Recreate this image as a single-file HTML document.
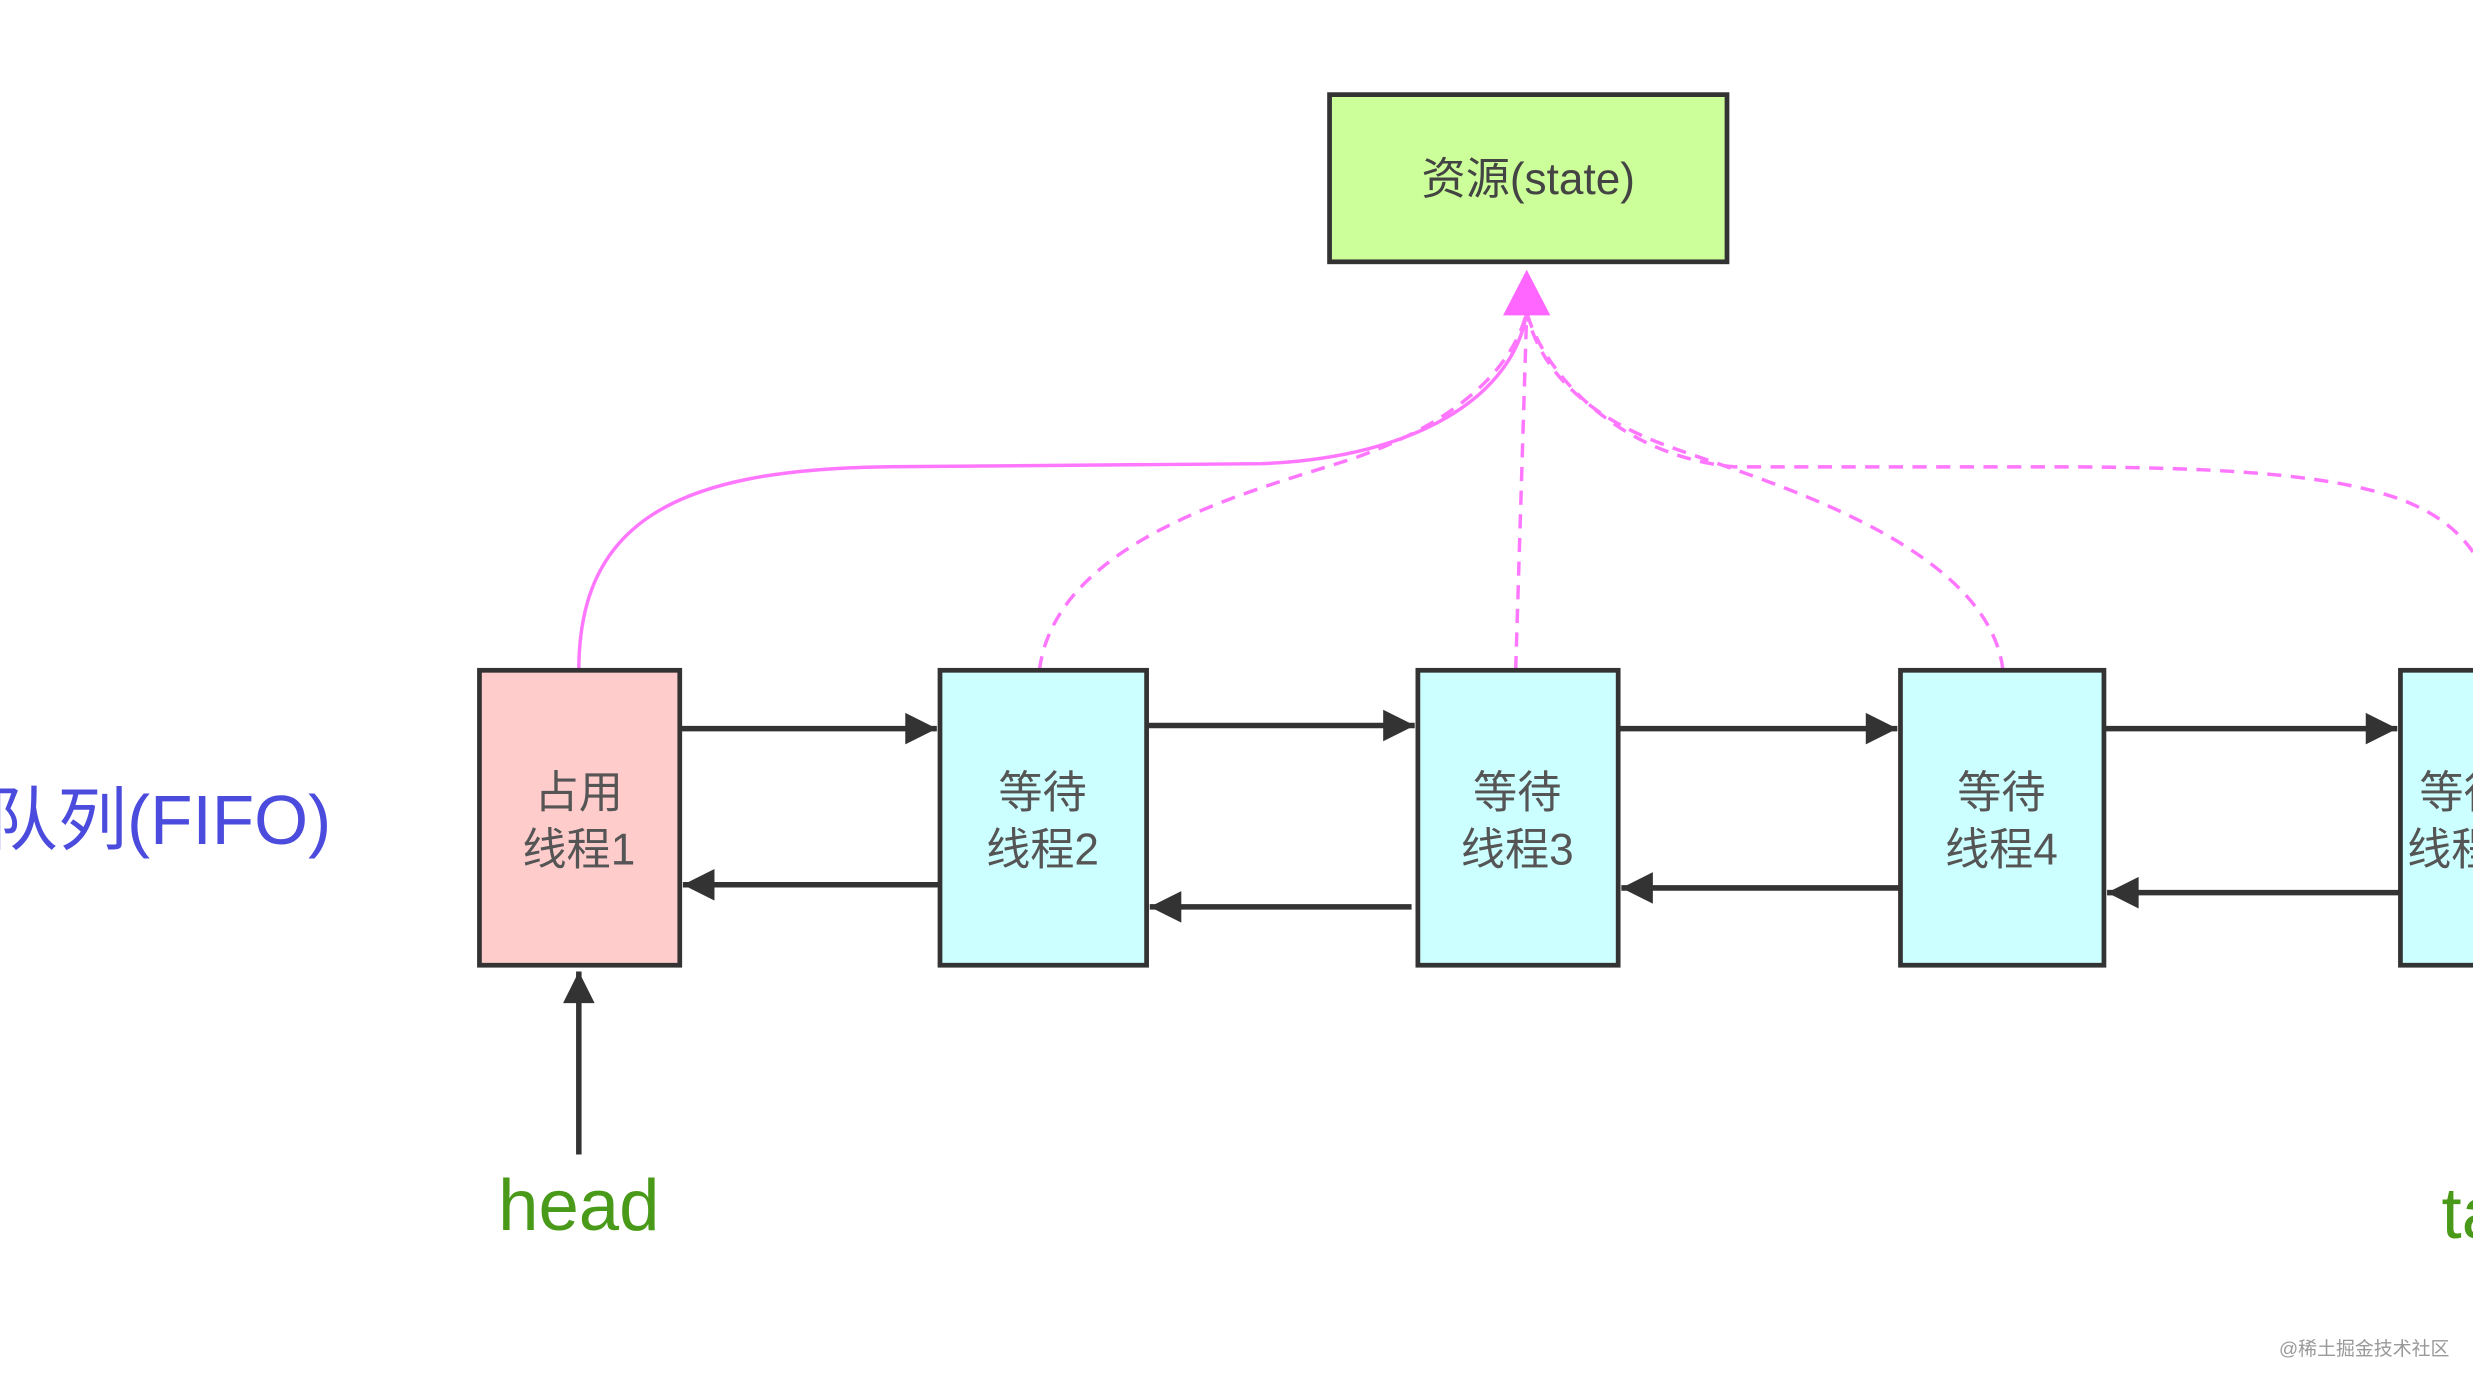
<!DOCTYPE html>
<html><head><meta charset="utf-8"><style>html,body{margin:0;padding:0;background:#fff;overflow:hidden}svg{display:block}</style></head>
<body>
<svg width="2473" height="1392" viewBox="0 0 1568 882.6" xmlns="http://www.w3.org/2000/svg" font-family="Liberation Sans, Noto Sans CJK SC, sans-serif">
<defs>
<marker id="ab" viewBox="0 0 10 10" refX="10" refY="5" markerWidth="32" markerHeight="20" markerUnits="userSpaceOnUse" orient="auto"><path d="M0,0 L10,5 L0,10z" fill="#333"/></marker>
<marker id="ah" viewBox="0 0 10 10" refX="10" refY="5" markerWidth="26" markerHeight="20" markerUnits="userSpaceOnUse" orient="auto"><path d="M0,0 L10,5 L0,10z" fill="#333"/></marker>
</defs>
<g fill="none" stroke="#f7f" stroke-width="2.2">
<path d="M367,425 C367,330 430,298 560,296 L800,294 C900,290 960,250 968,198"/>
<g stroke-dasharray="9,6">
<path d="M659,425 C670,340 800,310 860,290 C930,265 960,230 968,198"/>
<path d="M961,425 L968,198"/>
<path d="M1270,425 C1260,340 1100,300 1050,280 C1000,260 975,230 968,198"/>
<path d="M1568,350 C1540,310 1480,296 1300,296 L1100,296 C1030,290 980,240 968,198"/>
</g></g>
<path d="M968,171 L983,200 L953,200z" fill="#f6f"/>
<rect x="843" y="60" width="252" height="106" fill="#ccff99" stroke="#333" stroke-width="3"/>
<text x="969" y="123" font-size="28" fill="#444" text-anchor="middle">资源(state)</text>
<g stroke="#333" stroke-width="3">
<rect x="304" y="425" width="127" height="187" fill="#ffcccc"/>
<rect x="596" y="425" width="131" height="187" fill="#ccffff"/>
<rect x="899" y="425" width="127" height="187" fill="#ccffff"/>
<rect x="1205" y="425" width="129" height="187" fill="#ccffff"/>
<rect x="1522" y="425" width="60" height="187" fill="#ccffff"/>
</g>
<g font-size="28" fill="#555" text-anchor="middle">
<text x="367" y="512">占用</text><text x="367" y="548">线程1</text>
<text x="661" y="512">等待</text><text x="661" y="548">线程2</text>
<text x="962" y="512">等待</text><text x="962" y="548">线程3</text>
<text x="1269" y="512">等待</text><text x="1269" y="548">线程4</text>
<text x="1562" y="512">等待</text><text x="1562" y="548">线程5</text>
</g>
<g stroke="#333" stroke-width="3.5">
<line x1="431" y1="462" x2="594" y2="462" marker-end="url(#ab)"/>
<line x1="727" y1="460" x2="897" y2="460" marker-end="url(#ab)"/>
<line x1="1026" y1="462" x2="1203" y2="462" marker-end="url(#ab)"/>
<line x1="1334" y1="462" x2="1520" y2="462" marker-end="url(#ab)"/>
<line x1="596" y1="561" x2="433" y2="561" marker-end="url(#ab)"/>
<line x1="895" y1="575" x2="729" y2="575" marker-end="url(#ab)"/>
<line x1="1205" y1="563" x2="1028" y2="563" marker-end="url(#ab)"/>
<line x1="1522" y1="566" x2="1336" y2="566" marker-end="url(#ab)"/>
<line x1="367" y1="732" x2="367" y2="616" marker-end="url(#ah)"/>
</g>
<text x="210" y="535" font-size="44" fill="#4b4bdd" text-anchor="end">同步队列(FIFO)</text>
<text x="367" y="780" font-size="46" fill="#4a9a1a" text-anchor="middle">head</text>
<text x="1548" y="785" font-size="46" fill="#4a9a1a">tail</text>
<text x="1445" y="859" font-size="12" fill="#999">@稀土掘金技术社区</text>
</svg>
</body></html>
